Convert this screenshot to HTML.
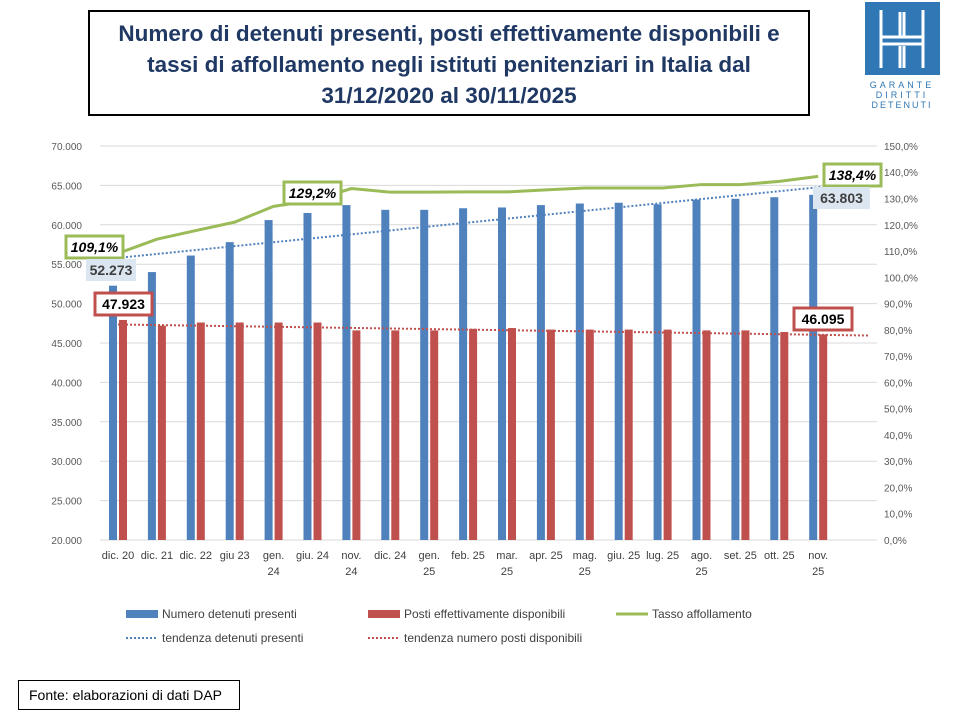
<!DOCTYPE html>
<html><head><meta charset="utf-8"><style>
body{margin:0;width:960px;height:720px;background:#fff;font-family:"Liberation Sans",sans-serif;overflow:hidden;position:relative}
#title{position:absolute;left:88px;top:10px;width:722px;height:106px;border:2px solid #000;box-sizing:border-box;text-align:center;font-weight:bold;font-size:22.5px;line-height:31px;color:#1f3864;padding-top:6px;white-space:nowrap}
#foot{position:absolute;left:18px;top:680px;width:222px;height:30px;border:1px solid #000;box-sizing:border-box;font-size:14px;padding:6px 0 0 10px}
</style></head><body>
<div id="title">Numero di detenuti presenti, posti effettivamente disponibili e<br>tassi di affollamento negli istituti penitenziari in Italia dal<br>31/12/2020 al 30/11/2025</div>
<svg width="960" height="720" style="position:absolute;left:0;top:0" id="s" font-family="Liberation Sans, sans-serif">
<rect x="865" y="2" width="75" height="73" fill="#2f77b5"/>
<path d="M881 10 L881 68 M923 10 L923 68 M900 12 L900 36 M904 12 L904 36 M900 46 L900 68 M904 46 L904 68 M881 37 L923 37 M881 44 L923 44" stroke="#fff" stroke-width="3" fill="none"/>
<text x="902" y="88" font-size="9" fill="#2f77b5" text-anchor="middle" letter-spacing="3">GARANTE</text>
<text x="902" y="98" font-size="9" fill="#2f77b5" text-anchor="middle" letter-spacing="3">DIRITTI</text>
<text x="902" y="108" font-size="9" fill="#2f77b5" text-anchor="middle" letter-spacing="2">DETENUTI</text>
</svg>
<div id="foot">Fonte: elaborazioni di dati DAP</div>
<script>
const s=document.getElementById('s');let h='';
const Y=v=>540-(v-20000)*394/50000, P=p=>540-p*2.627;
for(let i=0;i<=10;i++){const v=20000+i*5000,y=Y(v);h+=`<line x1="100" x2="877" y1="${y}" y2="${y}" stroke="#d9d9d9"/>`;
h+=`<text x="82" y="${y+4}" font-size="10" fill="#595959" text-anchor="end">${(v/1000).toFixed(3)}</text>`;}
for(let i=0;i<=15;i++){const p=i*10;h+=`<text x="884" y="${P(p)+4}" font-size="10" fill="#595959">${p.toFixed(1).replace('.',',')}%</text>`;}
const cats=['dic. 20','dic. 21','dic. 22','giu 23','gen.|24','giu. 24','nov.|24','dic. 24','gen.|25','feb. 25','mar.|25','apr. 25','mag.|25','giu. 25','lug. 25','ago.|25','set. 25','ott. 25','nov.|25'];
const B=[52273,54000,56100,57800,60600,61500,62500,61900,61900,62100,62200,62500,62700,62800,62600,63200,63300,63500,63803];
const R=[47923,47200,47600,47600,47600,47600,46600,46600,46600,46800,46900,46700,46700,46700,46700,46600,46600,46400,46095];
const G=[109.1,114.5,117.8,121,127,129.2,133.8,132.4,132.4,132.5,132.5,133.3,134,134,134,135.3,135.3,136.5,138.4];
let gp='';
cats.forEach((c,i)=>{const cx=118+38.9*i;
h+=`<rect x="${cx-9}" y="${Y(B[i])}" width="8" height="${540-Y(B[i])}" fill="#4f81bd"/>`;
h+=`<rect x="${cx+1}" y="${Y(R[i])}" width="8" height="${540-Y(R[i])}" fill="#c0504d"/>`;
gp+=(i?'L':'M')+cx+' '+P(G[i]);
c.split('|').forEach((t,k)=>h+=`<text x="${cx}" y="${559+k*16}" font-size="11" fill="#404040" text-anchor="middle">${t}</text>`);});
h+=`<line x1="118" y1="${Y(55800)}" x2="868" y2="${Y(65400)}" stroke="#4f81bd" stroke-width="2" stroke-dasharray="2 2"/>`;
h+=`<line x1="118" y1="${Y(47350)}" x2="868" y2="${Y(45950)}" stroke="#c0504d" stroke-width="2" stroke-dasharray="2 2"/>`;
h+=`<path d="${gp}" stroke="#9bbb59" stroke-width="3" fill="none"/>`;
const box=(x,y,w,t,col,it,fill)=>{h+=`<rect x="${x}" y="${y}" width="${w}" height="22" fill="${fill||'#fff'}" ${col?`stroke="${col}" stroke-width="3"`:''}/><text x="${x+w/2}" y="${y+16}" font-size="14" font-weight="bold" ${it?'font-style="italic"':''} text-anchor="middle" fill="${fill?'#404040':'#000'}">${t}</text>`;};
box(66,236,57,'109,1%','#9bbb59',1);box(284,182,57,'129,2%','#9bbb59',1);box(824,164,57,'138,4%','#9bbb59',1);
box(86,259,50,'52.273',null,0,'#dce6f1');box(813,187,57,'63.803',null,0,'#dce6f1');
box(95,293,57,'47.923','#c0504d');box(794,308,58,'46.095','#c0504d');
const leg=(x,y,t,type,col)=>{if(type=='r')h+=`<rect x="${x}" y="${y-4}" width="32" height="8" fill="${col}"/>`;else if(type=='l')h+=`<line x1="${x}" x2="${x+32}" y1="${y}" y2="${y}" stroke="${col}" stroke-width="3"/>`;else h+=`<line x1="${x}" x2="${x+32}" y1="${y}" y2="${y}" stroke="${col}" stroke-width="2" stroke-dasharray="2 2"/>`;
h+=`<text x="${x+36}" y="${y+4}" font-size="12" fill="#404040">${t}</text>`;};
leg(126,614,'Numero detenuti presenti','r','#4f81bd');leg(368,614,'Posti effettivamente disponibili','r','#c0504d');leg(616,614,'Tasso affollamento','l','#9bbb59');
leg(126,638,'tendenza detenuti presenti','d','#4f81bd');leg(368,638,'tendenza numero posti disponibili','d','#c0504d');
s.insertAdjacentHTML('beforeend',h);
</script>
</body></html>
